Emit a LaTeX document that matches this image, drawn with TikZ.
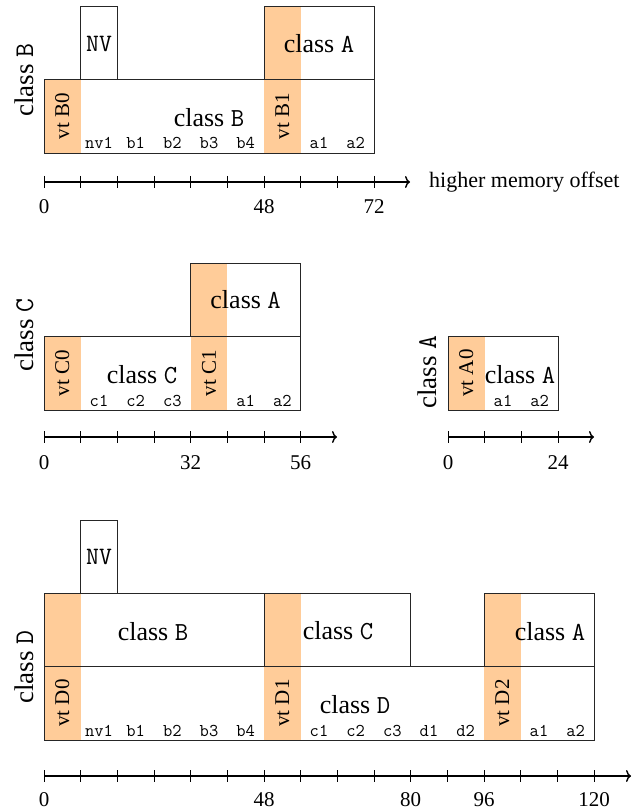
\documentclass[tikz,border=0pt]{standalone}
\usepackage{fontspec}
\setmainfont{Liberation Serif}
\usetikzlibrary{arrows.meta}
\begin{document}
\begin{tikzpicture}[x=1pt,y=-1pt,
  box/.style={draw=black!85,line width=0.9pt},
  vtfill/.style={fill=orange!40},
  cls/.style={font=\fontsize{26}{28}\selectfont,inner sep=0pt},
  side/.style={font=\fontsize{27}{29}\selectfont,rotate=90,inner sep=0pt},
  vtl/.style={font=\fontsize{21}{23}\selectfont,rotate=90,inner sep=0pt},
  fld/.style={font=\fontsize{18}{20}\selectfont\ttfamily,anchor=base,inner sep=0pt},
  nvl/.style={font=\fontsize{25}{27}\selectfont\ttfamily,inner sep=0pt},
  num/.style={font=\fontsize{21}{23}\selectfont,inner sep=0pt},
  axis/.style={line width=1.4pt,-{To[length=5pt,width=12pt]}},
  tickl/.style={line width=0.8pt}]
\def\U{4.58333}
\useasboundingbox (0,0) rectangle (640,810);

% ================= Section 1: class B =================
\fill[vtfill] (44,79) rectangle ({44+8*\U},153);
\fill[vtfill] ({44+48*\U},6) rectangle ({44+56*\U},153);
\draw[box] (44,79) rectangle ({44+72*\U},153);
\draw[box] ({44+8*\U},6) rectangle ({44+16*\U},79);
\draw[box] ({44+48*\U},6) rectangle ({44+72*\U},79);
\node[side] (s1) at (24,80) {class \texttt{B}};
\node[nvl] (nv1box) at ({44+12*\U},44) {NV};
\node[cls] (b1A) at ({44+60*\U},44) {class \texttt{A}};
\node[cls] (b1B) at (209,118) {class \texttt{B}};
\node[vtl] (vtB0) at ({44+4*\U},116) {vt B0};
\node[vtl] (vtB1) at ({44+52*\U},116) {vt B1};
\foreach \c/\t in {1/nv1,2/b1,3/b2,4/b3,5/b4,7/a1,8/a2}
  \node[fld] (f1\c) at ({44+(\c*8+4)*\U},149) {\t};
\draw[axis] (44,182) coordinate (a1s) -- (410,182) coordinate (a1e);
\foreach \i in {0,...,9}
  \draw[tickl] ({44+8*\i*\U},176) -- ({44+8*\i*\U},188);
\foreach \v in {0,48,72}
  \node[num] (n1\v) at ({44+\v*\U},207) {\v};
\node[font=\fontsize{22}{24}\selectfont,inner sep=0pt,anchor=west] (hmo) at (429,182) {higher memory offset};

% ================= Section 2: class C =================
\fill[vtfill] (44,336) rectangle ({44+8*\U},410);
\fill[vtfill] ({44+32*\U},263) rectangle ({44+40*\U},410);
\draw[box] (44,336) rectangle ({44+56*\U},410);
\draw[box] ({44+32*\U},263) rectangle ({44+56*\U},336);
\node[side] (s2) at (24,335) {class \texttt{C}};
\node[cls] (c2A) at ({44+44*\U},300) {class \texttt{A}};
\node[cls] (c2C) at (142,375) {class \texttt{C}};
\node[vtl] (vtC0) at ({44+4*\U},373) {vt C0};
\node[vtl] (vtC1) at ({44+36*\U},373) {vt C1};
\foreach \c/\t in {1/c1,2/c2,3/c3,5/a1,6/a2}
  \node[fld] (f2\c) at ({44+(\c*8+4)*\U},406) {\t};
\draw[axis] (44,437) coordinate (a2s) -- (337,437) coordinate (a2e);
\foreach \i in {0,...,7}
  \draw[tickl] ({44+8*\i*\U},431) -- ({44+8*\i*\U},443);
\foreach \v in {0,32,56}
  \node[num] (n2\v) at ({44+\v*\U},463) {\v};

% ================= Section A =================
\fill[vtfill] (448,336) rectangle ({448+8*\U},410);
\draw[box] (448,336) rectangle ({448+24*\U},410);
\node[side] (sA) at (427,372) {class \texttt{A}};
\node[vtl] (vtA0) at ({448+4*\U},373) {vt A0};
\node[cls] (aA) at (520,375) {class \texttt{A}};
\foreach \c/\t in {1/a1,2/a2}
  \node[fld] (fA\c) at ({448+(\c*8+4)*\U},406) {\t};
\draw[axis] (448,437) coordinate (aAs) -- (594,437) coordinate (aAe);
\foreach \i in {0,...,3}
  \draw[tickl] ({448+8*\i*\U},431) -- ({448+8*\i*\U},443);
\foreach \v in {0,24}
  \node[num] (nA\v) at ({448+\v*\U},463) {\v};

% ================= Section 3: class D =================
\fill[vtfill] (44,593) rectangle ({44+8*\U},740);
\fill[vtfill] ({44+48*\U},593) rectangle ({44+56*\U},740);
\fill[vtfill] ({44+96*\U},593) rectangle ({44+104*\U},740);
\draw[box] (44,666) rectangle ({44+120*\U},740);
\draw[box] ({44+8*\U},520) rectangle ({44+16*\U},593);
\draw[box] (44,593) rectangle ({44+48*\U},666);
\draw[box] ({44+48*\U},593) rectangle ({44+80*\U},666);
\draw[box] ({44+96*\U},593) rectangle ({44+120*\U},666);
\node[side] (s3) at (24,667) {class \texttt{D}};
\node[nvl] (nv3box) at ({44+12*\U},557) {NV};
\node[cls] (d3B) at (153,632) {class \texttt{B}};
\node[cls] (d3C) at (338,631) {class \texttt{C}};
\node[cls] (d3A) at (550,632) {class \texttt{A}};
\node[cls] (d3D) at (355,705) {class \texttt{D}};
\node[vtl] (vtD0) at ({44+4*\U},703) {vt D0};
\node[vtl] (vtD1) at ({44+52*\U},703) {vt D1};
\node[vtl] (vtD2) at ({44+100*\U},703) {vt D2};
\foreach \c/\t in {1/nv1,2/b1,3/b2,4/b3,5/b4,7/c1,8/c2,9/c3,10/d1,11/d2,13/a1,14/a2}
  \node[fld] (f3\c) at ({44+(\c*8+4)*\U},736) {\t};
\draw[axis] (44,776) coordinate (a3s) -- (631,776) coordinate (a3e);
\foreach \i in {0,...,15}
  \draw[tickl] ({44+8*\i*\U},770) -- ({44+8*\i*\U},782);
\foreach \v in {0,48,80,96,120}
  \node[num] (n3\v) at ({44+\v*\U},800) {\v};
\end{tikzpicture}
\end{document}
